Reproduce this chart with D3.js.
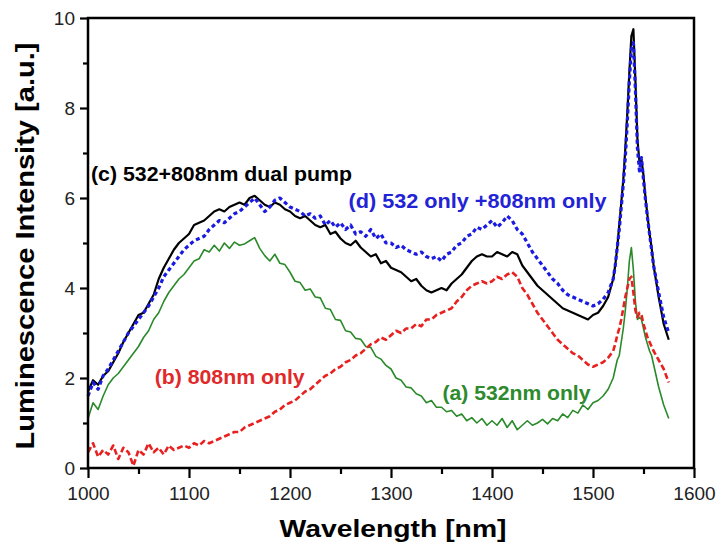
<!DOCTYPE html>
<meta charset="utf-8">
<style>
body { margin: 0; background: #fff; }
svg { font-family: "Liberation Sans", Arial, sans-serif; }
.axis path { display: none; }
.axis line { stroke: #000; stroke-width: 2.2; }
.axis text { font-size: 19px; fill: #222; }
.curve { fill: none; stroke-linejoin: round; }
</style>
<body>
<svg width="720" height="544"></svg>
<script src="https://d3js.org/d3.v7.min.js"></script>
<script>
// wavelength grid (nm)
var wavelength = [
  1000,1005,1010,1015,1020,1025,1030,1035,1040,1045,
  1050,1055,1060,1065,1070,1075,1080,1085,1090,1095,
  1100,1105,1110,1115,1120,1125,1130,1135,1140,1145,
  1150,1155,1160,1165,1170,1175,1180,1185,1190,1195,
  1200,1205,1210,1215,1220,1225,1230,1235,1240,1245,
  1250,1255,1260,1265,1270,1275,1280,1285,1290,1295,
  1300,1305,1310,1315,1320,1325,1330,1335,1340,1345,
  1350,1355,1360,1365,1370,1375,1380,1385,1390,1395,
  1400,1405,1410,1415,1420,1425,1430,1435,1440,1445,
  1450,1455,1460,1465,1470,1475,1480,1485,1490,1495,
  1500,1505,1510,1515,1520,
  1522,1524,1526,1528,1530,1532,1534,1536,1538,1540,
  1542,1544,1546,1548,1550,1552,1554,1556,1558,1560,
  1565,1570,1575
];

// (a) 532nm only
var seriesA = [
  1.1,1.45,1.3,1.6,1.85,2.0,2.1,2.25,2.4,2.55,
  2.7,2.9,3.05,3.3,3.45,3.7,3.9,4.05,4.2,4.3,
  4.45,4.6,4.65,4.85,4.8,4.95,4.82,5.0,4.88,5.02,
  4.95,4.98,5.05,5.12,4.88,4.72,4.6,4.75,4.55,4.52,
  4.35,4.15,4.12,3.95,3.98,3.8,3.78,3.55,3.52,3.3,
  3.28,3.05,3.02,2.88,2.86,2.7,2.68,2.48,2.42,2.28,
  2.2,2.0,1.95,1.8,1.78,1.65,1.6,1.45,1.5,1.35,
  1.35,1.25,1.28,1.15,1.2,1.05,1.12,1.0,1.1,0.95,
  1.05,0.95,1.1,0.9,1.05,0.85,0.95,1.05,0.95,1.0,
  1.08,0.98,1.1,1.05,1.2,1.12,1.28,1.22,1.4,1.3,
  1.45,1.5,1.6,1.75,2.0,
  2.2,2.4,2.5,2.8,3.1,3.5,4.0,4.6,4.9,4.4,
  3.7,3.3,3.35,3.3,3.1,2.9,2.75,2.6,2.5,2.3,
  1.8,1.4,1.1
];

// (b) 808nm only
var seriesB = [
  0.35,0.55,0.25,0.4,0.3,0.5,0.2,0.45,0.35,0.05,
  0.4,0.3,0.55,0.35,0.45,0.3,0.5,0.4,0.45,0.5,
  0.45,0.55,0.5,0.6,0.55,0.6,0.65,0.7,0.75,0.8,
  0.8,0.9,0.95,1.0,1.05,1.1,1.15,1.25,1.3,1.4,
  1.45,1.5,1.6,1.7,1.75,1.85,1.95,2.05,2.1,2.2,
  2.25,2.35,2.4,2.5,2.55,2.65,2.75,2.8,2.9,2.85,
  2.95,3.05,3.0,3.1,3.1,3.2,3.15,3.3,3.3,3.4,
  3.45,3.5,3.55,3.7,3.8,3.95,4.05,4.1,4.15,4.1,
  4.15,4.25,4.2,4.3,4.35,4.25,4.0,3.85,3.65,3.45,
  3.3,3.15,3.0,2.85,2.75,2.65,2.55,2.5,2.4,2.3,
  2.25,2.3,2.35,2.45,2.6,
  2.75,2.95,3.1,3.3,3.55,3.8,4.0,4.2,4.25,3.9,
  3.5,3.35,3.45,3.4,3.2,3.05,2.9,2.8,2.7,2.6,
  2.4,2.2,1.9
];

// (c) 532+808nm dual pump
var seriesC = [
  1.7,1.95,1.85,2.05,2.15,2.35,2.55,2.8,3.0,3.2,
  3.4,3.45,3.65,3.85,4.2,4.45,4.65,4.85,5.0,5.1,
  5.2,5.4,5.45,5.5,5.6,5.7,5.75,5.7,5.8,5.85,
  5.9,5.85,6.0,6.05,5.95,5.85,5.8,5.9,5.85,5.75,
  5.7,5.6,5.55,5.6,5.5,5.4,5.35,5.4,5.2,5.25,
  5.1,5.0,4.95,5.05,4.9,4.8,4.7,4.75,4.55,4.6,
  4.45,4.4,4.35,4.25,4.15,4.2,4.05,3.95,3.9,3.95,
  4.0,3.95,4.1,4.2,4.3,4.45,4.6,4.7,4.75,4.7,
  4.7,4.8,4.75,4.7,4.8,4.75,4.5,4.35,4.2,4.05,
  3.95,3.85,3.75,3.65,3.55,3.5,3.45,3.4,3.35,3.3,
  3.4,3.45,3.6,3.8,4.2,
  4.5,4.9,5.4,5.9,6.4,7.1,7.9,8.8,9.6,9.75,
  8.6,7.3,6.8,6.85,6.5,6.0,5.6,5.2,4.9,4.5,
  3.8,3.2,2.85
];

// (d) 532 only + 808nm only
var seriesD = [
  1.6,1.9,1.75,2.05,2.2,2.4,2.6,2.8,3.0,3.15,
  3.3,3.45,3.6,3.8,4.0,4.25,4.4,4.55,4.7,4.85,
  4.95,5.05,5.1,5.15,5.3,5.4,5.5,5.45,5.55,5.65,
  5.7,5.8,5.9,6.0,5.85,5.7,5.8,5.95,6.0,5.9,
  5.8,5.75,5.7,5.6,5.65,5.55,5.6,5.4,5.5,5.35,
  5.45,5.3,5.4,5.2,5.25,5.15,5.3,5.1,5.2,5.0,
  5.0,4.9,4.95,4.85,4.8,4.75,4.8,4.7,4.65,4.7,
  4.6,4.75,4.8,4.95,5.0,5.15,5.2,5.35,5.3,5.4,
  5.5,5.35,5.45,5.6,5.5,5.3,5.2,5.0,4.8,4.65,
  4.5,4.35,4.2,4.1,3.95,3.85,3.8,3.75,3.7,3.65,
  3.6,3.65,3.75,3.9,4.2,
  4.5,4.9,5.3,5.8,6.3,6.9,7.7,8.6,9.3,9.45,
  8.4,7.1,6.6,6.9,6.4,5.95,5.55,5.2,4.85,4.5,
  3.9,3.35,3.0
];

var xTicks = [1000, 1100, 1200, 1300, 1400, 1500, 1600];
var xMinor = [1050, 1150, 1250, 1350, 1450, 1550];
var yTicks = [0, 2, 4, 6, 8, 10];
var yMinor = [1, 3, 5, 7, 9];

var labels = [
  {text: "(c) 532+808nm dual pump", nm: 1003, v: 6.38, len: 261, color: "#000"},
  {text: "(d) 532 only +808nm only", nm: 1258, v: 5.77, len: 258, color: "#2323d6"},
  {text: "(b) 808nm only", nm: 1066, v: 1.87, len: 150, color: "#e02a2a"},
  {text: "(a) 532nm only", nm: 1351, v: 1.51, len: 148, color: "#2d8a2d"}
];

var svg = d3.select("svg"),
    margin = {top: 18, right: 26, bottom: 76, left: 88},
    width = +svg.attr("width") - margin.left - margin.right,
    height = +svg.attr("height") - margin.top - margin.bottom,
    g = svg.append("g").attr("transform", "translate(" + margin.left + "," + margin.top + ")");

var x = d3.scaleLinear().domain([1000, 1600]).range([0, width]);
var y = d3.scaleLinear().domain([0, 10]).range([height, 0]);

// minor ticks
g.append("g")
    .attr("class", "axis")
    .attr("transform", "translate(0," + height + ")")
    .call(d3.axisBottom(x).tickValues(xMinor).tickSize(6).tickFormat(""));
g.append("g")
    .attr("class", "axis")
    .call(d3.axisLeft(y).tickValues(yMinor).tickSize(5).tickFormat(""));

// major ticks
g.append("g")
    .attr("class", "axis")
    .attr("transform", "translate(0," + height + ")")
    .call(d3.axisBottom(x).tickValues(xTicks).tickSize(10).tickPadding(9).tickFormat(d3.format("d")));
g.append("g")
    .attr("class", "axis")
    .call(d3.axisLeft(y).tickValues(yTicks).tickSize(8).tickPadding(5).tickFormat(d3.format("d")));

function line(vals) {
  return d3.line()
    .x(function(d, i) { return x(wavelength[i]); })
    .y(function(d) { return y(d); })(vals);
}

g.append("path").attr("class", "curve").attr("d", line(seriesA))
    .attr("stroke", "#2a8a2a").attr("stroke-width", 1.6);
g.append("path").attr("class", "curve").attr("d", line(seriesB))
    .attr("stroke", "#e82020").attr("stroke-width", 2.6).attr("stroke-dasharray", "6,3");
g.append("path").attr("class", "curve").attr("d", line(seriesC))
    .attr("stroke", "#000").attr("stroke-width", 2.2);
g.append("path").attr("class", "curve").attr("d", line(seriesD))
    .attr("stroke", "#1a1ae0").attr("stroke-width", 3.2).attr("stroke-dasharray", "4,3");

// frame
g.append("rect")
    .attr("width", width).attr("height", height)
    .attr("fill", "none").attr("stroke", "#000").attr("stroke-width", 2.5);

g.selectAll(".label")
    .data(labels)
    .enter().append("text")
    .attr("class", "label")
    .attr("x", function(d) { return x(d.nm); })
    .attr("y", function(d) { return y(d.v); })
    .attr("textLength", function(d) { return d.len; })
    .attr("lengthAdjust", "spacingAndGlyphs")
    .attr("fill", function(d) { return d.color; })
    .style("font-size", "20px")
    .style("font-weight", "bold")
    .text(function(d) { return d.text; });

svg.append("text")
    .attr("x", 393)
    .attr("y", 537)
    .attr("text-anchor", "middle")
    .attr("textLength", 227)
    .attr("lengthAdjust", "spacingAndGlyphs")
    .style("font-size", "24px")
    .style("font-weight", "bold")
    .text("Wavelength [nm]");

svg.append("text")
    .attr("transform", "translate(34,246) rotate(-90)")
    .attr("text-anchor", "middle")
    .attr("textLength", 407)
    .attr("lengthAdjust", "spacingAndGlyphs")
    .style("font-size", "25px")
    .style("font-weight", "bold")
    .text("Luminescence Intensity [a.u.]");
</script>
